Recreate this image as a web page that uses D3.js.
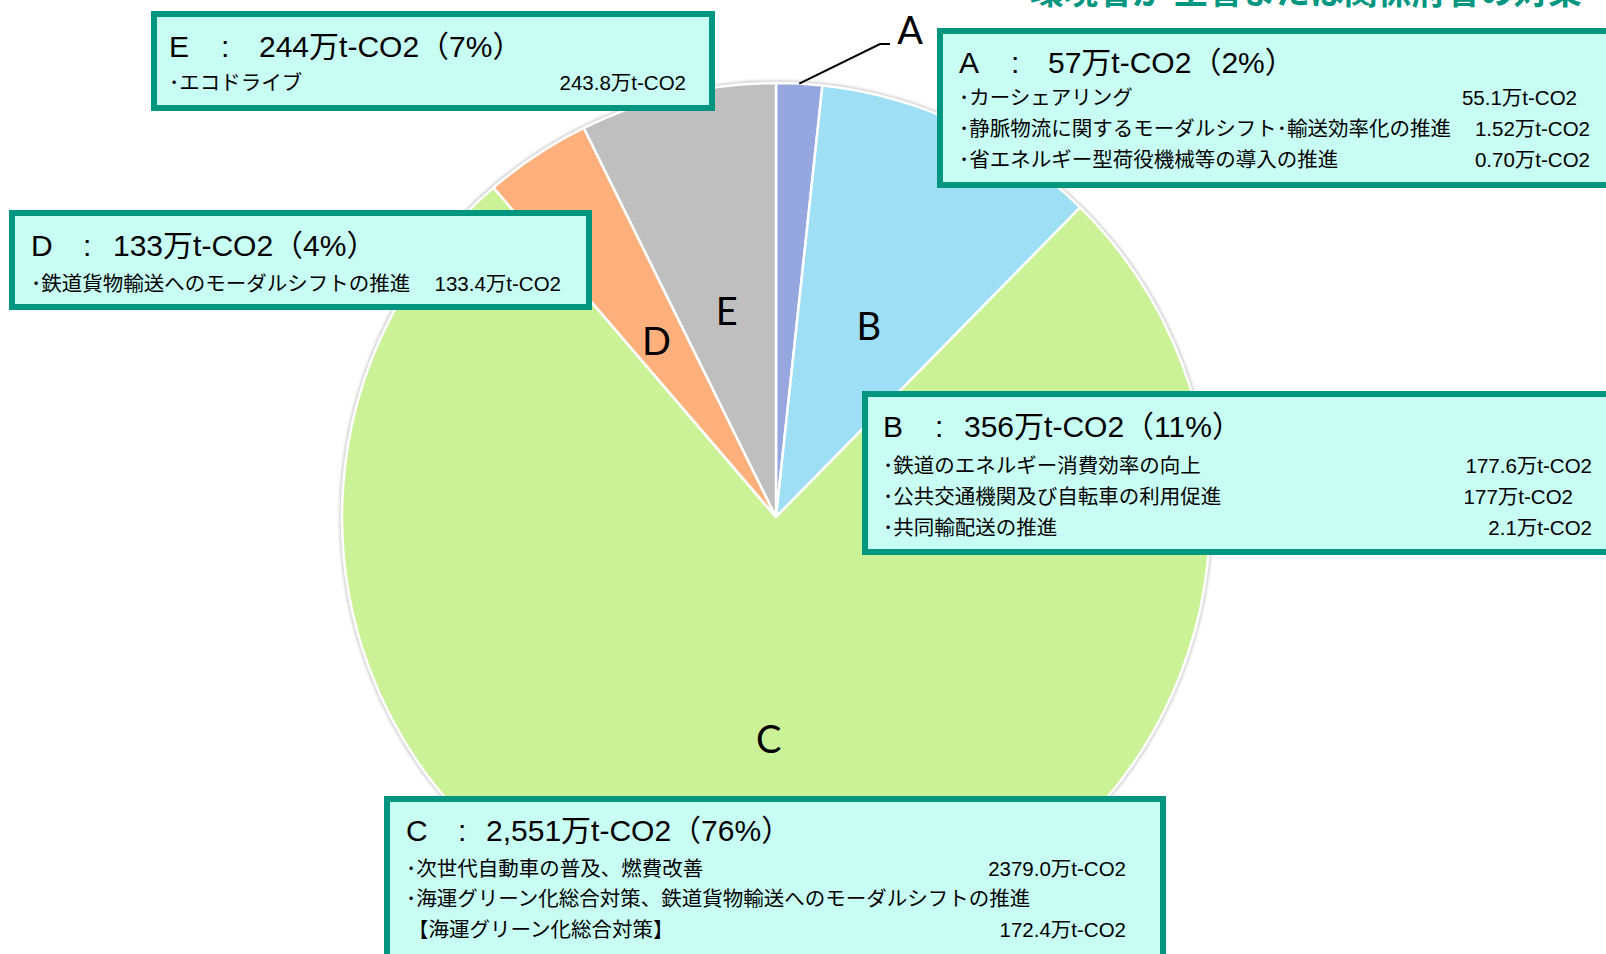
<!DOCTYPE html>
<html>
<head>
<meta charset="utf-8">
<script src="https://d3js.org/d3.v7.min.js"></script>
<style>
  body { margin: 0; background: #fff; }
  text { font-family: "Liberation Sans", "Noto Sans CJK JP", sans-serif; }
</style>
</head>
<body>
<svg id="chart" width="1606" height="954"></svg>
<script>
// categories and totals (万t-CO2)
var categories = ['A', 'B', 'C', 'D', 'E'];
var totals = [57, 356, 2551, 133, 244];
var totalLabels = ['57', '356', '2,551', '133', '244'];
var shares = ['2%', '11%', '76%', '4%', '7%'];
var colors = ['#96a6df', '#9fdff6', '#ccf298', '#fdb07b', '#bfbfbf'];

// measures per category
var itemNames = [
  ['カーシェアリング', '静脈物流に関するモーダルシフト･輸送効率化の推進', '省エネルギー型荷役機械等の導入の推進'],
  ['鉄道のエネルギー消費効率の向上', '公共交通機関及び自転車の利用促進', '共同輸配送の推進'],
  ['次世代自動車の普及、燃費改善', '海運グリーン化総合対策、鉄道貨物輸送へのモーダルシフトの推進', '【海運グリーン化総合対策】'],
  ['鉄道貨物輸送へのモーダルシフトの推進'],
  ['エコドライブ']
];
var itemValues = [
  ['55.1', '1.52', '0.70'],
  ['177.6', '177', '2.1'],
  ['2379.0', null, '172.4'],
  ['133.4'],
  ['243.8']
];

// layout of the callout boxes
var boxes = {
  A: { x: 940, y: 31, w: 700, h: 154, tx: 959, ty: 73, rows: [105, 136, 167], vx: [1577, 1590, 1590], off: 89 },
  B: { x: 865, y: 394, w: 760, h: 158, tx: 883, ty: 437, rows: [473, 504, 535], vx: [1592, 1573, 1592], off: 81 },
  C: { x: 387, y: 799, w: 776, h: 200, tx: 406, ty: 841, rows: [876, 906, 937], vx: [1126, 1126, 1126], off: 80 },
  D: { x: 12, y: 213, w: 577, h: 94, tx: 31, ty: 256, rows: [291], vx: [561], off: 82 },
  E: { x: 154, y: 14, w: 558, h: 94, tx: 169, ty: 57, rows: [90], vx: [686], off: 90 }
};

var svg = d3.select('#chart');
var cx = 776, cy = 517, r = 434;

// header text, cut by the top edge
svg.append('text')
  .attr('x', 1030).attr('y', 4)
  .attr('font-size', 34).attr('font-weight', 'bold')
  .attr('fill', '#009680')
  .style('font-family', '"Noto Sans CJK JP"')
  .text('環境省が 主管または関係府省の対策');

var defs = svg.append('defs');
defs.append('filter').attr('id', 'soft')
  .append('feGaussianBlur').attr('stdDeviation', 1.5);

var g = svg.append('g').attr('transform', 'translate(' + cx + ',' + cy + ')');

// faint rim behind the pie
g.append('circle')
  .attr('r', r + 1)
  .attr('fill', 'none')
  .attr('stroke', '#c8c8c8')
  .attr('stroke-width', 3)
  .attr('filter', 'url(#soft)');

var pie = d3.pie().sort(null).value(function(d) { return d; });
var arcs = pie(totals);
var arc = d3.arc().innerRadius(0).outerRadius(r);

g.selectAll('path.slice')
  .data(arcs)
  .enter()
  .append('path')
    .attr('class', 'slice')
    .attr('d', arc)
    .attr('fill', function(d, i) { return colors[i]; })
    .attr('stroke', '#fff')
    .attr('stroke-width', 2.5);

// letters on slices (A sits outside with a leader line)
g.selectAll('text.lbl')
  .data(arcs)
  .enter()
  .append('text')
    .attr('class', 'lbl')
    .attr('text-anchor', 'middle')
    .attr('font-size', 38)
    .style('font-family', 'Lato, "Liberation Sans", sans-serif')
    .attr('fill', '#000')
    .attr('x', function(d, i) { return i === 0 ? 134 : arc.centroid(d)[0]; })
    .attr('y', function(d, i) { return i === 0 ? -473 : arc.centroid(d)[1] + 19; })
    .text(function(d, i) { return categories[i]; });

var a0 = arcs[0], mid = (a0.startAngle + a0.endAngle) / 2;
g.append('polyline')
  .attr('points', [
    [r * Math.sin(mid), -r * Math.cos(mid)],
    [104, -473],
    [114, -473]
  ].map(function(p) { return p.join(','); }).join(' '))
  .attr('fill', 'none')
  .attr('stroke', '#000')
  .attr('stroke-width', 2);

// callout boxes
categories.forEach(function(c, i) {
  var b = boxes[c];
  var bg = svg.append('g');
  bg.append('rect')
    .attr('x', b.x).attr('y', b.y)
    .attr('width', b.w).attr('height', b.h)
    .attr('fill', '#c8fdf4')
    .attr('stroke', '#009680')
    .attr('stroke-width', 6);

  bg.append('text').attr('x', b.tx).attr('y', b.ty)
    .attr('font-size', 30).text(c);
  bg.append('text').attr('x', b.tx + 52).attr('y', b.ty)
    .attr('font-size', 30).text(':');
  bg.append('text').attr('x', b.tx + b.off).attr('y', b.ty)
    .attr('font-size', 30)
    .text(totalLabels[i] + '万t-CO2（' + shares[i] + '）');

  itemNames[i].forEach(function(name, j) {
    var lead = name.charAt(0) === '【' ? '' : '･';
    bg.append('text')
      .attr('x', b.tx + (lead ? 0 : 2)).attr('y', b.rows[j])
      .attr('font-size', 20.5)
      .text(lead + name);
    if (itemValues[i][j] !== null) {
      bg.append('text')
        .attr('x', b.vx[j]).attr('y', b.rows[j])
        .attr('text-anchor', 'end')
        .attr('font-size', 20.5)
        .text(itemValues[i][j] + '万t-CO2');
    }
  });
});
</script>
</body>
</html>
